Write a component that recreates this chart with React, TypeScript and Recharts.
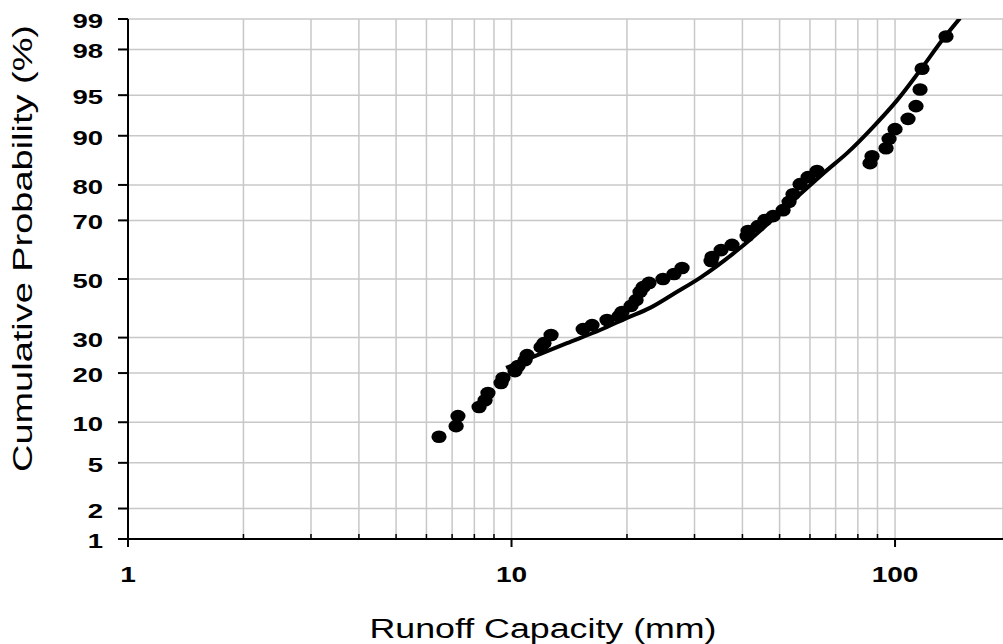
import React from 'react';
import { ComposedChart, Scatter, XAxis, YAxis, CartesianGrid } from 'recharts';

// Observed points: runoff capacity (mm) and cumulative probability (%)
const runoffMm = [
  6.47, 7.17, 7.25, 8.23, 8.53, 8.68, 9.39, 9.5, 10.21, 10.4,
  10.85, 10.98, 11.94, 12.15, 12.68, 15.37, 16.22, 17.74, 19.07, 19.42,
  20.5, 21.12, 21.63, 22.03, 22.83, 24.83, 26.53, 27.84, 33.13, 33.33,
  35.18, 37.58, 41.13, 41.37, 43.93, 45.81, 48.07, 51.05, 52.92, 54.2,
  56.54, 59.32, 62.6, 86.06, 87.1, 94.74, 96.47, 100.0, 108.1, 113.4,
  116.2, 117.6, 135.8,
];
const cumProbPct = [
  7.9, 9.4, 11.0, 12.6, 13.9, 15.4, 17.6, 18.8, 20.5, 21.8,
  23.4, 24.8, 27.1, 28.3, 30.8, 32.7, 34.0, 35.7, 37.0, 38.4,
  40.5, 42.5, 45.4, 47.1, 48.6, 50.0, 51.8, 53.9, 56.4, 57.8,
  60.2, 62.0, 65.0, 66.6, 68.2, 70.1, 71.3, 73.1, 75.5, 77.6,
  80.2, 81.9, 83.3, 85.0, 86.4, 87.9, 89.5, 91.0, 92.4, 93.9,
  95.5, 97.0, 98.5,
];

// Fitted curve
const curveMm = [9.68, 11.38, 13.95, 17.02, 20.01, 22.97, 26.69, 31.01, 39.43, 46.37, 56.54, 66.49, 74.97, 87.61, 101.2, 116.2, 133.4, 147.7];
const curvePct = [21.3, 24.3, 28.3, 32.4, 36.4, 39.8, 45.0, 50.4, 60.9, 68.7, 77.6, 83.5, 87.0, 91.3, 94.5, 96.9, 98.41, 99.02];

// Axis ticks
const yTickPct = [1, 2, 5, 10, 20, 30, 50, 70, 80, 90, 95, 98, 99];
const xMajorTicks = [1, 10, 100];
const xGridTicks = [1, 2, 3, 4, 5, 6, 7, 8, 9, 10, 20, 30, 40, 50, 60, 70, 80, 90, 100];
const xMax = 191.2;

// inverse standard normal CDF (probability-paper axis transform)
function probit(p: number): number {
  const a = [-3.969683028665376e1, 2.209460984245205e2, -2.759285104469687e2, 1.38357751867269e2, -3.066479806614716e1, 2.506628277459239];
  const b = [-5.447609879822406e1, 1.615858368580409e2, -1.556989798598866e2, 6.680131188771972e1, -1.328068155288572e1];
  const c = [-7.784894002430293e-3, -3.223964580411365e-1, -2.400758276161838, -2.549732539343734, 4.374664141464968, 2.938163982698783];
  const d = [7.784695709041462e-3, 3.224671290700398e-1, 2.445134137142996, 3.754408661907416];
  const plow = 0.02425;
  const phigh = 1 - plow;
  if (p < plow) {
    const q = Math.sqrt(-2 * Math.log(p));
    return (((((c[0] * q + c[1]) * q + c[2]) * q + c[3]) * q + c[4]) * q + c[5]) / ((((d[0] * q + d[1]) * q + d[2]) * q + d[3]) * q + 1);
  }
  if (p > phigh) {
    const q = Math.sqrt(-2 * Math.log(1 - p));
    return -(((((c[0] * q + c[1]) * q + c[2]) * q + c[3]) * q + c[4]) * q + c[5]) / ((((d[0] * q + d[1]) * q + d[2]) * q + d[3]) * q + 1);
  }
  const q = p - 0.5;
  const r = q * q;
  return ((((((a[0] * r + a[1]) * r + a[2]) * r + a[3]) * r + a[4]) * r + a[5]) * q) / (((((b[0] * r + b[1]) * r + b[2]) * r + b[3]) * r + b[4]) * r + 1);
}

const points = runoffMm.map((x, i) => ({ x, z: probit(cumProbPct[i] / 100) }));
const curve = curveMm.map((x, i) => ({ x, z: probit(curvePct[i] / 100) }));
const yTicks = yTickPct.map((p) => probit(p / 100));
const yDomain = [probit(0.01), probit(0.99)];

const FONT = '"Liberation Sans", Arial, sans-serif';

function pctLabel(v: number): string {
  let best = 0;
  let bd = Infinity;
  yTicks.forEach((t, i) => {
    const dd = Math.abs(t - v);
    if (dd < bd) {
      bd = dd;
      best = i;
    }
  });
  return String(yTickPct[best]);
}

const YTick = (props: any) => {
  const { x, y, payload } = props;
  const label = pctLabel(payload.value);
  return (
    <g>
      <line x1={x - 10} y1={y} x2={x} y2={y} stroke="#000" strokeWidth={2} />
      <text
        x={x - 25}
        y={y + 9}
        textAnchor="end"
        fontFamily={FONT}
        fontWeight="bold"
        fontSize={21}
        fill="#000"
        textLength={label.length * 15.3}
        lengthAdjust="spacingAndGlyphs"
      >
        {label}
      </text>
    </g>
  );
};

const XTickBottom = (props: any) => {
  const { x, y, payload } = props;
  const v = payload.value;
  const major = xMajorTicks.some((m) => Math.abs(m - v) < 1e-6);
  if (!major) {
    return <line x1={x} y1={y} x2={x} y2={y - 5} stroke="#000" strokeWidth={1.5} />;
  }
  const label = String(v);
  return (
    <g>
      <line x1={x} y1={y} x2={x} y2={y + 8} stroke="#000" strokeWidth={2} />
      <text
        x={x}
        y={y + 43}
        textAnchor="middle"
        fontFamily={FONT}
        fontWeight="bold"
        fontSize={22}
        fill="#000"
        textLength={label.length * 15.6}
        lengthAdjust="spacingAndGlyphs"
      >
        {label}
      </text>
    </g>
  );
};

const XTickTop = (props: any) => {
  const { x, y, payload } = props;
  const v = payload.value;
  const major = xMajorTicks.some((m) => Math.abs(m - v) < 1e-6);
  if (major) return <g />;
  return <line x1={x} y1={y} x2={x} y2={y + 5} stroke="#000" strokeWidth={1.5} />;
};

const Dot = (props: any) => {
  const { cx, cy } = props;
  if (cx == null || cy == null) return <g />;
  return <ellipse cx={cx} cy={cy} rx={7.6} ry={6.3} fill="#000" />;
};

const NoDot = () => <g />;

export default function App() {
  return (
    <div style={{ position: 'absolute', left: 0, top: 0, width: 1003, height: 644, background: '#fff', overflow: 'hidden' }}>
      <ComposedChart width={1003} height={644} margin={{ top: 19, right: 0, bottom: 0, left: 0 }}>
        <CartesianGrid stroke="#c8c8c8" strokeWidth={1.5} horizontal={true} vertical={true} />
        <XAxis
          dataKey="x"
          type="number"
          scale="log"
          domain={[1, xMax]}
          allowDataOverflow
          ticks={xGridTicks}
          interval={0}
          height={105}
          tickSize={0}
          tickMargin={0}
          tickLine={false}
          axisLine={{ stroke: '#000', strokeWidth: 2 }}
          tick={<XTickBottom />}
        />
        <XAxis
          xAxisId="top"
          orientation="top"
          dataKey="x"
          type="number"
          scale="log"
          domain={[1, xMax]}
          allowDataOverflow
          ticks={xGridTicks}
          interval={0}
          height={0}
          tickSize={0}
          tickMargin={0}
          tickLine={false}
          axisLine={{ stroke: '#000', strokeWidth: 2 }}
          tick={<XTickTop />}
        />
        <YAxis
          dataKey="z"
          type="number"
          domain={yDomain}
          allowDataOverflow
          ticks={yTicks}
          interval={0}
          width={128}
          tickSize={0}
          tickMargin={0}
          tickLine={false}
          axisLine={{ stroke: '#000', strokeWidth: 2 }}
          tick={<YTick />}
        />
        <Scatter
          data={curve}
          dataKey="z"
          isAnimationActive={false}
          line={{ stroke: '#000', strokeWidth: 4 }}
          lineJointType="monotoneX"
          shape={<NoDot />}
        />
        <Scatter data={points} dataKey="z" isAnimationActive={false} shape={<Dot />} />
      </ComposedChart>
      <svg width={1003} height={644} style={{ position: 'absolute', left: 0, top: 0, pointerEvents: 'none' }}>
        <text
          x={543}
          y={638}
          textAnchor="middle"
          fontFamily={FONT}
          fontSize={27}
          fill="#000"
          textLength={347}
          lengthAdjust="spacingAndGlyphs"
        >
          Runoff Capacity (mm)
        </text>
        <text
          x={32}
          y={248.5}
          transform="rotate(-90 32 248.5)"
          textAnchor="middle"
          fontFamily={FONT}
          fontSize={27}
          fill="#000"
          textLength={447}
          lengthAdjust="spacingAndGlyphs"
        >
          Cumulative Probability (%)
        </text>
      </svg>
    </div>
  );
}
